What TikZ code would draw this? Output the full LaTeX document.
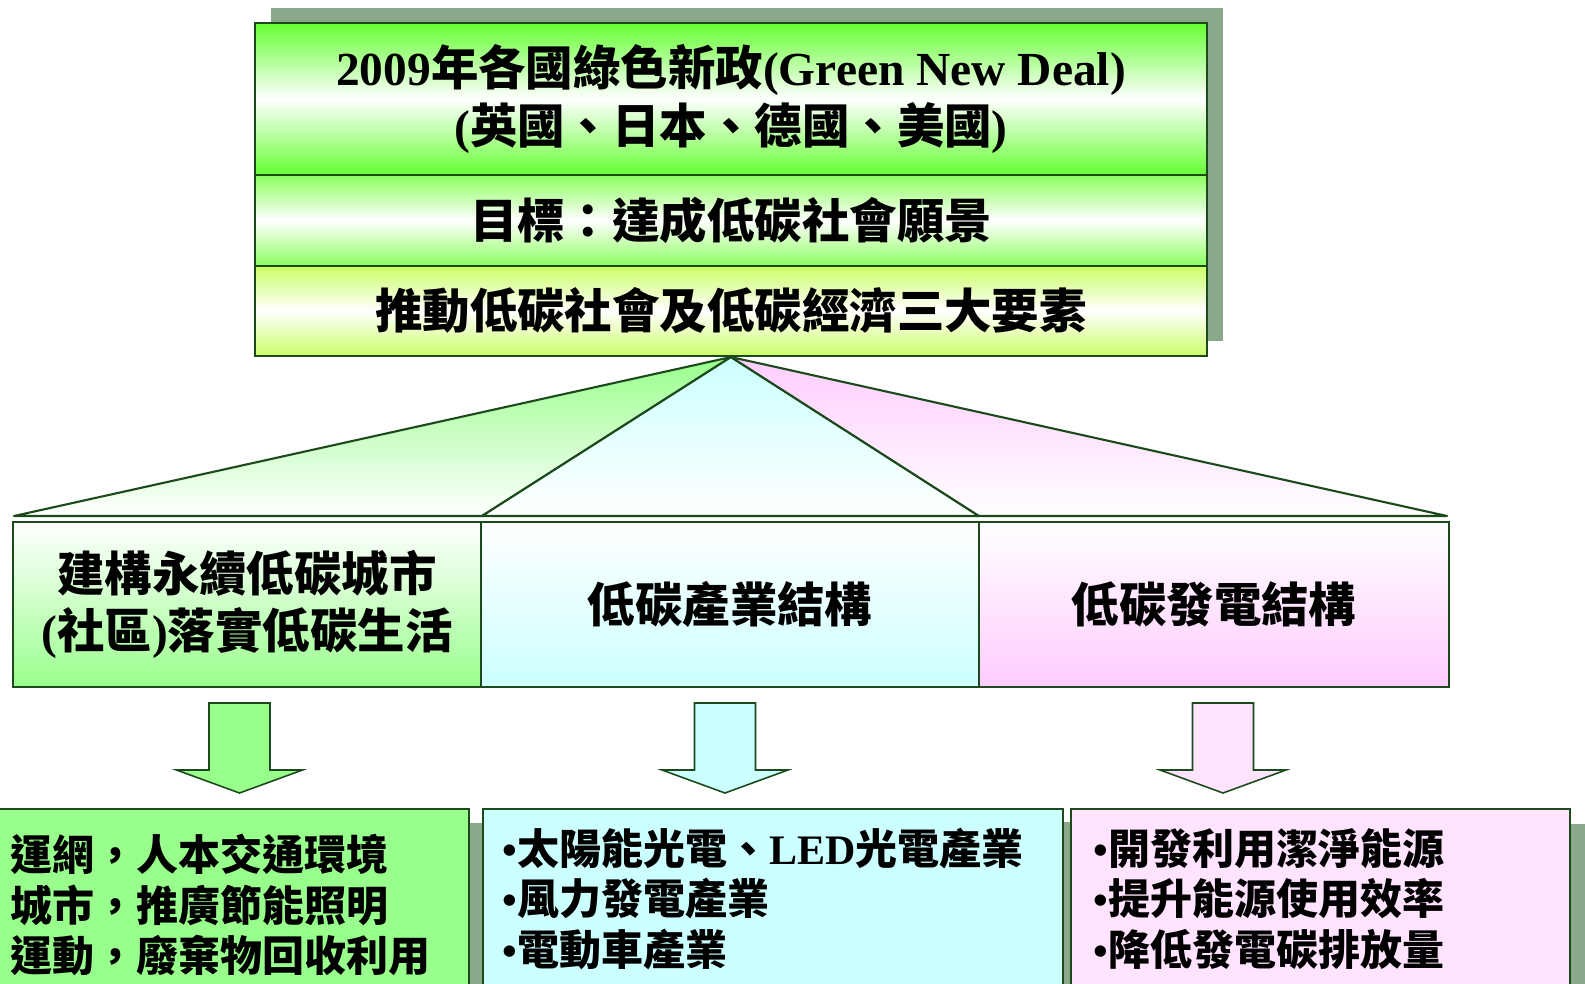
\documentclass[tikz,border=0pt]{standalone}
\usepackage{fontspec}
\setmainfont{Liberation Serif}
\newfontfamily\cjk{Noto Sans CJK TC}
\usepackage{tikz}

\newcommand{\lat}[1]{{\rmfamily\bfseries #1}}

\definecolor{edge}{HTML}{1C4A1C}
\definecolor{shadowgreen}{HTML}{8AA88A}
\definecolor{leafgreen}{HTML}{66FF33}
\definecolor{goalgreen}{HTML}{8CFF5E}
\definecolor{lime}{HTML}{CCFF66}
\definecolor{mintgreen}{HTML}{99FF8C}
\definecolor{icecyan}{HTML}{CCFFFF}
\definecolor{rosepink}{HTML}{FFCCFF}
\definecolor{blush}{HTML}{FFE3FF}

\begin{document}
\begin{tikzpicture}[x=0.2mm,y=-0.2mm,
    box/.style={draw=edge, line width=1.2pt, rectangle, inner sep=0pt, align=center},
    bigtext/.style={font=\cjk\bfseries\fontsize{27}{32.5}\selectfont},
    listtext/.style={font=\cjk\bfseries\fontsize{23.9}{28.8}\selectfont, align=left, inner sep=0pt, anchor=west},
    wedge/.style={draw=edge, line width=1.2pt, line join=round},
    blockarrow/.style={draw=edge, line width=0.9pt}]

\useasboundingbox (0,0) rectangle (1585,984);
\clip (0,0) rectangle (1585,984);
\fill[white] (0,0) rectangle (1585,984);

% shadows
\fill[shadowgreen] (271,8) rectangle (1223,341);
\fill[shadowgreen] (0,823) rectangle (484,1000);
\fill[shadowgreen] (490,822) rectangle (1082,1000);
\fill[shadowgreen] (1080,824) rectangle (1585,1000);

% top block
\node[box, bigtext, minimum width=190.4mm, minimum height=30.4mm,
      top color=leafgreen, bottom color=leafgreen, middle color=white] (deal) at (731,99)
  {\lat{2009}年各國綠色新政\lat{(Green New Deal)}\\\lat{(}英國、日本、德國、美國\lat{)}};
\node[box, bigtext, minimum width=190.4mm, minimum height=18.2mm,
      top color=goalgreen, bottom color=goalgreen, middle color=white] (goal) at (731,220.5)
  {目標：達成低碳社會願景};
\node[box, bigtext, minimum width=190.4mm, minimum height=18mm,
      top color=lime, bottom color=lime, middle color=white] (pillars) at (731,311)
  {推動低碳社會及低碳經濟三大要素};

% three wedges
\coordinate (b1) at (14,516);
\coordinate (b2) at (482,516);
\coordinate (b3) at (979,516);
\coordinate (b4) at (1447,516);
\draw[wedge, top color=mintgreen, bottom color=white] (pillars.south) -- (b1) -- (b2) -- cycle;
\draw[wedge, top color=icecyan, bottom color=white] (pillars.south) -- (b2) -- (b3) -- cycle;
\draw[wedge, top color=rosepink, bottom color=white] (pillars.south) -- (b3) -- (b4) -- cycle;

% middle row
\node[box, bigtext, minimum width=93.6mm, minimum height=33mm,
      top color=white, bottom color=mintgreen] (city) at (247,604.5)
  {建構永續低碳城市\\\lat{(}社區\lat{)}落實低碳生活};
\node[box, bigtext, minimum width=99.6mm, minimum height=33mm,
      top color=white, bottom color=icecyan] (industry) at (730,604.5)
  {低碳產業結構};
\node[box, bigtext, minimum width=94mm, minimum height=33mm,
      top color=white, bottom color=rosepink] (power) at (1214,604.5)
  {低碳發電結構};

% arrows down
\foreach \cx/\col in {239.5/mintgreen, 725/icecyan, 1223/blush}
  \draw[blockarrow, fill=\col] (\cx-30.5,703) -- (\cx+30.5,703) -- (\cx+30.5,770)
    -- (\cx+63,770) -- (\cx,793) -- (\cx-63,770) -- (\cx-30.5,770) -- cycle;

% bottom row
\node[box, fill=mintgreen, minimum width=98mm, minimum height=40mm, anchor=north east] (cityact) at (470,808) {};
\node[box, fill=icecyan, minimum width=116mm, minimum height=40mm, anchor=north west] (industryact) at (482,808) {};
\node[box, fill=blush, minimum width=99.8mm, minimum height=40mm, anchor=north west] (poweract) at (1070,808) {};

\node[listtext] (cityitems) at (10,905)
  {運網，人本交通環境\\城市，推廣節能照明\\運動，廢棄物回收利用};
\node[listtext] (industryitems) at (502,899)
  {\lat{•}太陽能光電、\lat{LED}光電產業\\\lat{•}風力發電產業\\\lat{•}電動車產業};
\node[listtext] (poweritems) at (1093,899)
  {\lat{•}開發利用潔淨能源\\\lat{•}提升能源使用效率\\\lat{•}降低發電碳排放量};
\end{tikzpicture}
\end{document}
